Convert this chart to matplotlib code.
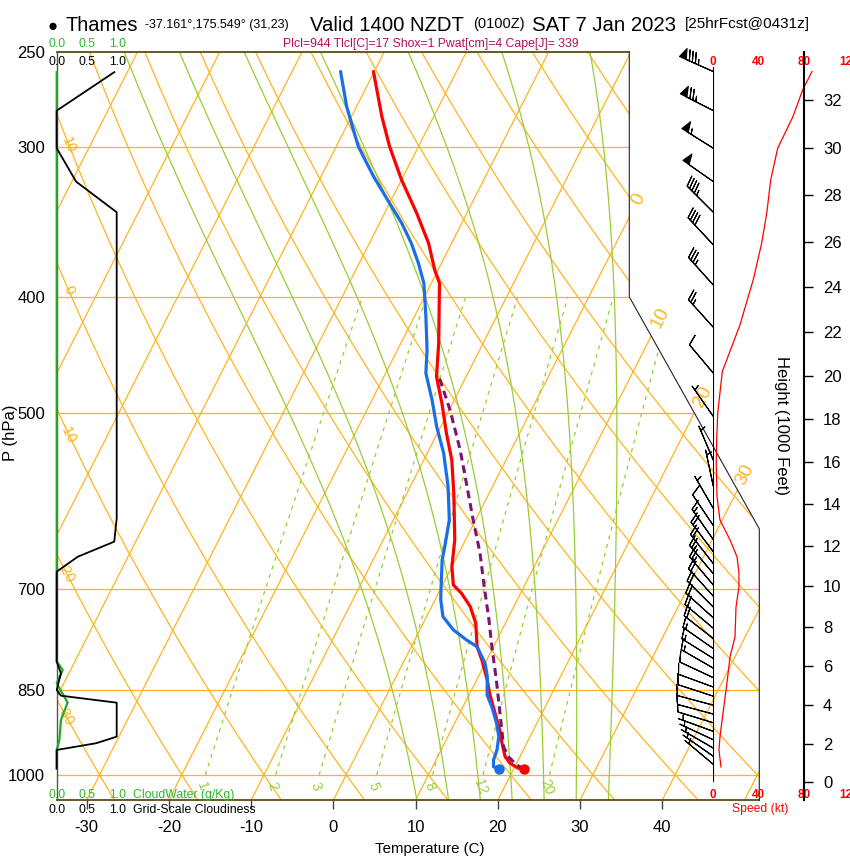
import numpy as np
import matplotlib
matplotlib.use("Agg")
import matplotlib.pyplot as plt
from matplotlib.patches import Polygon
from matplotlib.ticker import NullLocator
import matplotlib.transforms as mtrans

plt.rcParams['font.family'] = ['Liberation Sans', 'DejaVu Sans']
plt.rcParams['axes.unicode_minus'] = False

# ------------------------------------------------------------------ data
temp_p = [988.8, 987.4, 978.0, 965.7, 941.2, 917.5, 888.6, 855.2, 833.7, 802.3,
          782.1, 747.8, 724.3, 706.0, 694.8, 670.9, 637.4, 582.8, 546.8, 519.5,
          490.5, 466.1, 437.1, 415.4, 389.7, 379.9, 360.9, 340.7, 319.6, 299.9,
          283.1, 259.7]
temp_c = [21.3, 20.5, 19.2, 18.2, 17.0, 15.9, 14.3, 12.4, 11.3, 9.4,
          8.0, 6.4, 4.7, 2.8, 1.3, 0.0, -1.3, -4.3, -6.6, -8.9,
          -11.3, -13.6, -15.4, -17.0, -19.0, -20.4, -22.8, -26.1, -30.0, -33.5,
          -36.3, -40.1]

dew_p = [988.2, 984.4, 971.8, 953.4, 929.4, 905.8, 877.5, 858.0, 828.4, 807.4,
         782.1, 772.1, 757.5, 738.4, 715.1, 706.0, 662.3, 645.7, 613.4, 575.5,
         539.8, 512.9, 487.4, 463.1, 442.8, 415.4, 389.7, 375.0, 360.9, 347.3,
         334.3, 317.6, 299.9, 286.7, 277.7, 259.7]
dew_c = [18.2, 17.4, 17.0, 16.8, 16.2, 15.1, 13.5, 12.2, 11.1, 10.0,
         8.0, 6.3, 4.1, 2.0, 0.7, 0.3, -1.6, -2.1, -3.2, -5.4,
         -8.0, -10.5, -12.7, -15.1, -16.4, -18.6, -20.9, -22.8, -24.9, -27.3,
         -30.0, -33.6, -37.3, -39.6, -41.2, -44.1]

parcel_p = [988.8, 981.2, 965.7, 947.4, 888.6, 833.7, 782.1, 743.1, 692.6, 653.9,
            613.4, 575.5, 536.4, 496.8, 466.1]
parcel_c = [21.3, 20.1, 18.6, 17.4, 14.9, 12.4, 9.8, 7.8, 4.9, 2.6,
            -0.3, -3.1, -6.2, -9.9, -13.3]

spd_p = [259.7, 269.0, 283.1, 300.8, 319.6, 340.7, 360.9, 386.9, 422.1, 461.5,
         500.0, 526.0, 549.9, 587.0, 613.4, 637.4, 658.5, 679.0, 697.5, 724.8,
         767.7, 797.7, 838.5, 888.1, 929.9, 953.4, 985.0]
spd_kt = [87.3, 79.1, 70.5, 57.0, 50.8, 47.3, 42.8, 35.4, 23.6, 8.0,
          3.9, 3.0, 2.6, 3.3, 5.9, 14.8, 21.0, 22.7, 22.7, 20.1,
          19.2, 14.8, 12.1, 8.6, 5.9, 5.0, 6.8]

barb_p = [259.7, 279.9, 300.8, 320.7, 340.1, 362.0, 391.0, 424.0, 463.0, 503.0,
          547.0, 575.0, 600.0, 620.0, 637.0, 652.0, 667.0, 680.0, 695.0, 710.0,
          725.0, 740.0, 755.0, 770.0, 785.0, 800.0, 815.0, 830.0, 845.0, 860.0,
          875.0, 890.0, 905.0, 920.0, 935.0, 950.0, 965.0, 980.0]
barb_dir = [294, 297, 302, 305, 315, 317, 318, 318, 320, 325,
            337, 348, 330, 326, 325, 323, 322, 320, 320, 318,
            315, 312, 310, 308, 305, 302, 300, 295, 290, 288,
            285, 285, 287, 290, 295, 300, 305, 310]
barb_kt = [87, 77, 57, 50, 47, 42, 35, 24, 9, 4,
           3, 3, 4.5, 8, 15, 19, 22, 23, 23, 21.5,
           20, 19.5, 19, 19, 17, 15, 13.5, 12.5, 11.5, 10.5,
           9.5, 9, 8, 6.5, 6, 5, 5.5, 7]

cloud_p = [260.0, 279.9, 300.8, 320.7, 340.1, 611.4, 639.5, 658.2, 677.3, 804.9,
           823.0, 849.8, 859.2, 870.8, 929.4, 941.2, 953.4, 988.0]
cloud_frac = [0.95, 0.0, 0.0, 0.32, 0.99, 0.99, 0.95, 0.35, 0.0, 0.0,
              0.07, 0.0, 0.07, 0.99, 0.99, 0.65, 0.0, 0.0]
cw_p = [260.0, 804.9, 817.8, 839.0, 870.8, 900.1, 935.3, 953.4, 988.0]
cw_gkg = [0.0, 0.0, 0.10, 0.0, 0.18, 0.07, 0.045, 0.0, 0.0]

p_ticks = [250, 300, 400, 500, 700, 850, 1000]
t_ticks = [-30, -20, -10, 0, 10, 20, 30, 40]
isobar_lines = [1000, 850, 700, 500, 400, 300]
isotherm_vals = list(range(-80, 60, 10))
dry_vals = list(range(-40, 160, 10))
moist_vals = [8, 12, 16, 20, 24, 28, 32]
mix_vals = [1, 2, 3, 5, 8, 12, 20]
iso_lab_vals = [0, 10, 20, 30]
iso_lab_p = [332.0, 416.5, 484.6, 562.7]
dry_lab_vals = [10, 0, -10, -20, -30]
dry_lab_p = [298.9, 394.7, 519.2, 679.0, 891.5]
height_kft = list(range(0, 34, 2))
speed_ticks = [0, 40, 80, 120]
cloud_ticks = [0.0, 0.5, 1.0]

# ------------------------------------------------------------------ style
ORANGE = '#ffb41e'
YGREEN = '#9acd32'
OLIVE = '#5c4b17'
GREEN = '#2db82d'
RED = '#ff0000'
BLUE = '#1a6fe8'
PURPLE = '#7d1470'
CRIMSON = '#b0105a'

W, H = 850, 860
fig = plt.figure(figsize=(W / 100, H / 100), dpi=100)


def fx(x):
    return x / W


def fy(y):
    return 1 - y / H


P_BOT, P_TOP = 1050.0, 250.0
SKEW = 32.2
XL, XR, XB = -33.64, 51.81, 36.0
P_KNEE = 624.0


def skx(T, p):
    return np.asarray(T, float) + SKEW * np.log(P_BOT / np.asarray(p, float))


ax = fig.add_axes([fx(56.7), fy(800.3), fx(759.3) - fx(56.7), fy(51.7) - fy(800.3)])
ax.set_yscale('log')
ax.set_ylim(P_BOT, P_TOP)
ax.set_xlim(XL, XR)
ax.yaxis.set_minor_locator(NullLocator())
ax.set_yticks(p_ticks)
ax.set_yticklabels([str(v) for v in p_ticks])
ax.set_xticks(t_ticks)
ax.set_xticklabels([str(v) for v in t_ticks])
ax.tick_params(axis='y', length=0, pad=8.5, labelsize=12)
ax.tick_params(axis='x', length=6.5, width=1, color='#444444', pad=8, labelsize=12)
for s in ['top', 'right']:
    ax.spines[s].set_visible(False)
ax.spines['left'].set_color('#555555')
ax.spines['left'].set_linewidth(1.0)
ax.spines['bottom'].set_color(OLIVE)
ax.spines['bottom'].set_linewidth(1.3)
fig.text(fx(430), fy(849), 'Temperature (C)', fontsize=10.8, ha='center', va='center')
fig.text(fx(10), fy(433), 'P (hPa)', fontsize=12, rotation=90, ha='center', va='center')

clip = Polygon([(XL, P_BOT), (XL, P_TOP), (XB, P_TOP), (XB, 400), (XR, P_KNEE), (XR, P_BOT)],
               closed=True, transform=ax.transData, facecolor='none', edgecolor='none')
ax.add_patch(clip)


def bg(x, p, **kw):
    ln, = ax.plot(x, p, **kw)
    ln.set_clip_path(clip)
    return ln


pp = np.geomspace(P_BOT, P_TOP, 200)
for pv in isobar_lines:
    bg([XL, XR], [pv, pv], color=ORANGE, lw=0.9, zorder=1)
for T in isotherm_vals:
    bg(skx(np.full_like(pp, T), pp), pp, color=ORANGE, lw=0.9, zorder=1)
for th in dry_vals:
    Tp = (th + 273.15) * (pp / 1000.0) ** 0.2857 - 273.15
    bg(skx(Tp, pp), pp, color=ORANGE, lw=0.9, zorder=1)


def es(Tc):
    return 6.112 * np.exp(17.67 * Tc / (Tc + 243.5))


def dTdp(Tk, p):
    e = es(Tk - 273.15)
    rs = 0.622 * e / (p - e)
    Rd, cp, L = 287.04, 1005.7, 2.501e6
    return ((Rd * Tk + L * rs) / p) / (cp + L * L * rs * 0.622 / (Rd * Tk * Tk))


def moist(tw):
    res = {}
    for pend in (P_TOP, P_BOT):
        ps = np.linspace(1000.0, pend, 400)
        Tk = tw + 273.15
        out = [Tk]
        for i in range(1, len(ps)):
            h = ps[i] - ps[i - 1]
            k1 = dTdp(Tk, ps[i - 1])
            k2 = dTdp(Tk + 0.5 * h * k1, ps[i - 1] + 0.5 * h)
            k3 = dTdp(Tk + 0.5 * h * k2, ps[i - 1] + 0.5 * h)
            k4 = dTdp(Tk + h * k3, ps[i])
            Tk = Tk + h * (k1 + 2 * k2 + 2 * k3 + k4) / 6
            out.append(Tk)
        res[pend] = (ps, np.array(out) - 273.15)
    p = np.concatenate([res[P_BOT][0][::-1], res[P_TOP][0][1:]])
    T = np.concatenate([res[P_BOT][1][::-1], res[P_TOP][1][1:]])
    return p, T


for tw in moist_vals:
    mp, mT = moist(tw)
    bg(skx(mT, mp), mp, color=YGREEN, lw=0.9, zorder=1.5)

pm = np.geomspace(1000, 400, 100)


def mix_T(w, p):
    e = w * p / (622.0 + w)
    a = np.log(e / 6.112)
    return 243.5 * a / (17.67 - a)


for w in mix_vals:
    bg(skx(mix_T(w, pm), pm), pm, color=YGREEN, lw=0.9, ls=(0, (3.2, 4)), zorder=1.5)

fig.canvas.draw()


def disp_angle(x1, p1, x2, p2):
    a = ax.transData.transform([(x1, p1), (x2, p2)])
    return np.degrees(np.arctan2(a[1, 1] - a[0, 1], a[1, 0] - a[0, 0]))


for T, pl in zip(iso_lab_vals, iso_lab_p):
    ang = disp_angle(skx(T, pl * 1.05), pl * 1.05, skx(T, pl), pl)
    ax.text(skx(T, pl), pl, str(T), color=ORANGE, fontsize=13.5, rotation=ang,
            rotation_mode='anchor', ha='center', va='center', clip_on=False)
for th, pl in zip(dry_lab_vals, dry_lab_p):
    T1 = (th + 273.15) * (pl / 1000.0) ** 0.2857 - 273.15
    p2 = pl * 1.05
    T2 = (th + 273.15) * (p2 / 1000.0) ** 0.2857 - 273.15
    ang = disp_angle(skx(T1, pl), pl, skx(T2, p2), p2)
    ax.text(skx(T1, pl), pl, str(th), color=ORANGE, fontsize=10.5, rotation=ang,
            rotation_mode='anchor', ha='center', va='center', clip_on=False)
for w in mix_vals:
    pl = 1023.0
    ax.text(skx(mix_T(w, pl), pl), pl, str(w), color=YGREEN, fontsize=10, rotation=-70,
            rotation_mode='anchor', ha='center', va='center', clip_on=False)

# frame pieces
ax.plot([XL, XB], [P_TOP, P_TOP], color=OLIVE, lw=1.3, clip_on=False, zorder=5)
ax.plot([XB, XB, XR, XR], [P_TOP, 400, P_KNEE, P_BOT], color='#222222', lw=0.8,
        clip_on=False, zorder=5)

# cloud panel
axc = ax.twiny()
axc.set_xlim(0, (759.3 - 56.7) / 60.6)
axc.set_xticks([])
for s in axc.spines.values():
    s.set_visible(False)
axc.plot(cw_gkg, cw_p, color='#22aa22', lw=1.6, zorder=3, clip_on=False)
axc.plot(cloud_frac, cloud_p, color='black', lw=1.3, zorder=3, clip_on=False)

# sounding
ax.plot(skx(temp_c, temp_p), temp_p, color=RED, lw=2.3, zorder=6, solid_capstyle='round')
ax.plot(skx(dew_c, dew_p), dew_p, color=BLUE, lw=2.3, zorder=6, solid_capstyle='round')
ax.plot(skx(parcel_c, parcel_p), parcel_p, color=PURPLE, lw=2.2, ls=(0, (2.6, 1.6)), zorder=7)
ax.plot(skx(temp_c[:1], temp_p[:1]), temp_p[:1], 'o', color=RED, ms=6.5, zorder=8)
ax.plot(skx(dew_c[:1], dew_p[:1]), dew_p[:1], 'o', color=BLUE, ms=6.5, zorder=8)

# cloud tick labels
trc = mtrans.blended_transform_factory(axc.transData, fig.transFigure)
for v in cloud_ticks:
    fig.text(v, fy(47), f'{v:.1f}', transform=trc, color=GREEN, fontsize=8.8, ha='center', va='baseline')
    fig.text(v, fy(65), f'{v:.1f}', transform=trc, color='black', fontsize=8.8, ha='center', va='baseline')
    fig.text(v, fy(798), f'{v:.1f}', transform=trc, color=GREEN, fontsize=8.8, ha='center', va='baseline')
    fig.text(v, fy(812.7), f'{v:.1f}', transform=trc, color='black', fontsize=8.8, ha='center', va='baseline')
fig.text(fx(133), fy(798), 'CloudWater (g/Kg)', color=GREEN, fontsize=8.8, ha='left', va='baseline')
fig.text(fx(133), fy(812.7), 'Grid-Scale Cloudiness', color='black', fontsize=8.8, ha='left', va='baseline')

# speed panel with barbs
axs = fig.add_axes([fx(713.3), fy(800.3), fx(848.9) - fx(713.3), fy(51.7) - fy(800.3)])
axs.set_xlim(0, 120)
axs.set_yscale('log')
axs.set_ylim(P_BOT, P_TOP)
axs.set_axis_off()
axs.plot(spd_kt, spd_p, color=RED, lw=0.9, zorder=3)
axs.axvline(0, ymin=(800.3 - 781) / 748.6, ymax=(800.3 - 67) / 748.6, color='black', lw=0.8)
d = np.radians(barb_dir)
sp = np.asarray(barb_kt, float)
u = -sp * np.sin(d)
v = -sp * np.cos(d)
axs.barbs(np.zeros(len(barb_p)), barb_p, u, v, length=7.3, linewidth=0.8, color='black',
          sizes=dict(spacing=0.09, height=0.28, width=0.2, emptybarb=0.0), clip_on=False, zorder=4)
trs = mtrans.blended_transform_factory(axs.transData, axs.transAxes)
for s in speed_ticks:
    axs.text(s, (800.3 - 62) / 748.6, str(s), transform=trs, color=RED, fontsize=8.5,
             fontweight='bold', ha='center', va='center', clip_on=False)
    axs.text(s, (800.3 - 795) / 748.6, str(s), transform=trs, color=RED, fontsize=8.5,
             fontweight='bold', ha='center', va='center', clip_on=False)
fig.text(fx(760), fy(809), 'Speed (kt)', color=RED, fontsize=8.7, ha='center', va='center')

# height axis (standard atmosphere)
axh = fig.add_axes([fx(770), fy(800.3), fx(804) - fx(770), fy(51.7) - fy(800.3)])
axh.set_yscale('log')
axh.set_ylim(P_BOT, P_TOP)
axh.patch.set_visible(False)
for s in ['left', 'top', 'bottom']:
    axh.spines[s].set_visible(False)
axh.spines['right'].set_linewidth(1.5)
axh.set_xticks([])
axh.yaxis.set_minor_locator(NullLocator())
zm = np.array(height_kft) * 304.8
p_std = 1013.25 * (1 - 0.0065 * zm / 288.15) ** 5.25588
axh.yaxis.tick_right()
axh.set_yticks(p_std)
axh.set_yticklabels([str(z) for z in height_kft])
axh.tick_params(axis='y', direction='out', length=6.7, width=1, pad=7, labelsize=12)
fig.text(fx(781), fy(425), 'Height (1000 Feet)', rotation=-90, fontsize=12, ha='center', va='center')

# titles
fig.text(fx(48), fy(31), '\u25cf', fontsize=12, ha='left', va='baseline')
fig.text(fx(65), fy(31), 'Thames', fontsize=14.4, ha='left', va='baseline')
fig.text(fx(145), fy(28), '-37.161\u00b0,175.549\u00b0 (31,23)', fontsize=9, ha='left', va='baseline')
fig.text(fx(310), fy(31), 'Valid 1400 NZDT', fontsize=14.6, ha='left', va='baseline')
fig.text(fx(473), fy(28), '(0100Z)', fontsize=10.5, ha='left', va='baseline')
fig.text(fx(532), fy(31), 'SAT 7 Jan 2023', fontsize=14.7, ha='left', va='baseline')
fig.text(fx(685), fy(28), '[25hrFcst@0431z]', fontsize=11, ha='left', va='baseline')
fig.text(fx(283), fy(47), 'Plcl=944 Tlcl[C]=17 Shox=1 Pwat[cm]=4 Cape[J]= 339',
         color=CRIMSON, fontsize=8.8, ha='left', va='baseline')

fig.savefig('out.png', dpi=100)
